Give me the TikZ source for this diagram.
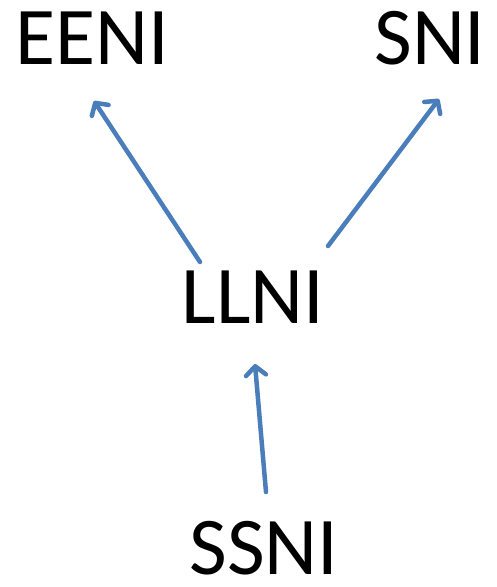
\documentclass[tikz,border=0pt]{standalone}
\usepackage{fontspec}
\setmainfont{Carlito}
\usetikzlibrary{arrows.meta}
\definecolor{arrowblue}{HTML}{4A7EBB}
\tikzset{
  lbl/.style={anchor=base, inner sep=0pt, font=\fontsize{82}{92}\selectfont},
  conn/.style={draw=arrowblue, line width=4.5pt, line cap=round, -{Straight Barb[length=9pt,width=20pt,line cap=round,line join=round]}}
}
\begin{document}
\begin{tikzpicture}[x=1pt,y=-1pt]
\useasboundingbox (0,0) rectangle (496,587);
\node[lbl] (eeni) at (92,64) {EENI};
\node[lbl] (sni) at (430,64) {SNI};
\node[lbl] (llni) at (253,323) {LLNI};
\node[lbl] (ssni) at (264,574) {SSNI};
\coordinate (t1) at (200,262);
\coordinate (h1) at (94,101);
\coordinate (t2) at (328,246);
\coordinate (h2) at (439,99);
\coordinate (t3) at (266,492);
\coordinate (h3) at (255,364);
\draw[conn] (t1) -- (h1);
\draw[conn] (t2) -- (h2);
\draw[conn] (t3) -- (h3);
\end{tikzpicture}
\end{document}
